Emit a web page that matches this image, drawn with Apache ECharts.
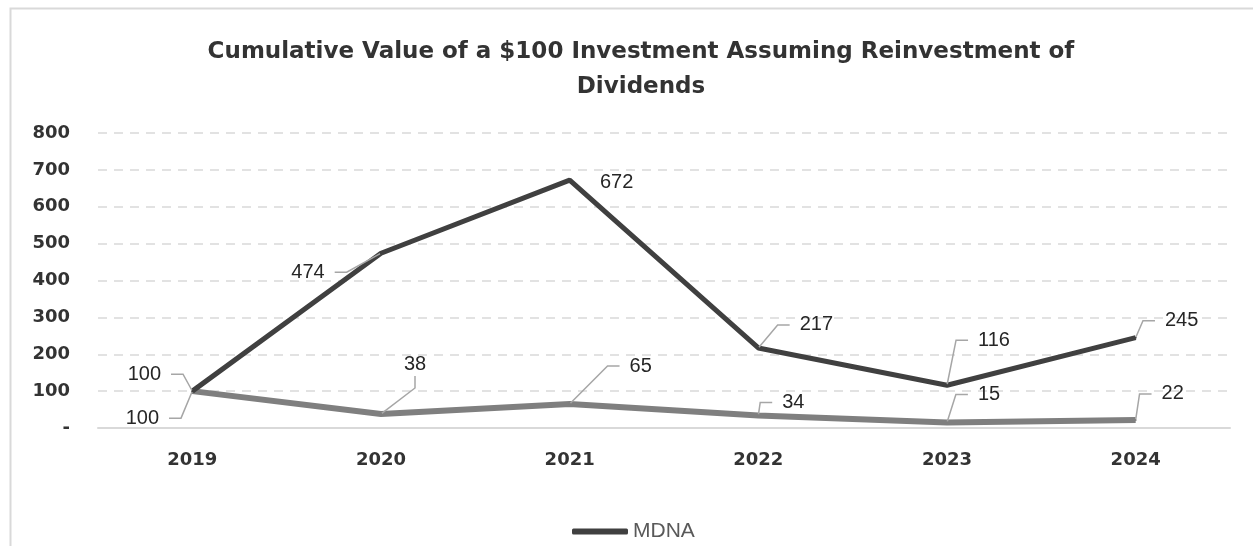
<!DOCTYPE html>
<html>
<head>
<meta charset="utf-8">
<script src="https://cdn.jsdelivr.net/npm/echarts@6/dist/echarts.min.js"></script>
<style>
  html, body { margin: 0; padding: 0; background: #fff; }
  #chart { width: 1253px; height: 546px; }
</style>
</head>
<body>
<div id="chart"></div>
<script>
// 数据
var years = ['2019', '2020', '2021', '2022', '2023', '2024'];
var mdnaValues = [100, 474, 672, 217, 116, 245];
var indexValues = [100, 38, 65, 34, 15, 22];
var yTicks = [0, 100, 200, 300, 400, 500, 600, 700, 800];

// 标签相对数据点的偏移 (label center - point)
var mdnaLabelOffset = [[-48, -17], [-73, 19], [47, 2], [58, -23], [47, -45], [46, -17]];
var indexLabelOffset = [[-50, 27], [34, -50], [71, -38], [35, -13], [42, -28], [37, -26]];

function moveLabel(offsets) {
  return function (params) {
    var r = params.rect;
    var lr = params.labelRect;
    var o = offsets[params.dataIndex];
    var cx = r.x + r.width / 2, cy = r.y + r.height / 2;
    return {
      dx: cx + o[0] - (lr.x + lr.width / 2),
      dy: cy + o[1] - (lr.y + lr.height / 2)
    };
  };
}

// 2021 的 672 标签没有引导线
var mdnaData = mdnaValues.map(function (v, i) {
  return i === 2 ? { value: v, labelLine: { show: false } } : v;
});

var chart = echarts.init(document.getElementById('chart'));

var labelLine = { show: true, length2: 12, lineStyle: { color: '#a6a6a6', width: 1.5 } };
var labelStyle = {
  show: true,
  position: 'top',
  fontFamily: 'Liberation Sans',
  fontSize: 20,
  color: '#262626',
  backgroundColor: 'rgba(255,255,255,0.01)',
  padding: [2, 10]
};

var option = {
  animation: false,
  backgroundColor: '#fff',
  graphic: [{
    type: 'rect',
    shape: { x: 10.5, y: 8.5, width: 1270, height: 560 },
    style: { fill: 'none', stroke: '#d9d9d9', lineWidth: 2 },
    silent: true
  }],
  title: {
    text: 'Cumulative Value of a $100 Investment Assuming Reinvestment of\nDividends',
    left: 636,
    top: 30,
    textAlign: 'center',
    textStyle: {
      fontFamily: 'DejaVu Sans',
      fontSize: 23,
      fontWeight: 'bold',
      color: '#333',
      lineHeight: 35
    }
  },
  legend: {
    data: ['MDNA'],
    top: 516,
    left: 567,
    icon: 'roundRect',
    itemWidth: 56,
    itemHeight: 6,
    textStyle: { fontFamily: 'Liberation Sans', fontSize: 21, color: '#595959' }
  },
  grid: { left: 98, right: 23, top: 133, bottom: 118, containLabel: false },
  xAxis: {
    type: 'category',
    data: years,
    boundaryGap: true,
    axisLine: { lineStyle: { color: '#d9d9d9', width: 2 } },
    axisTick: { show: false },
    axisLabel: {
      margin: 23,
      fontFamily: 'DejaVu Sans',
      fontSize: 18,
      fontWeight: 'bold',
      color: '#333'
    }
  },
  yAxis: {
    type: 'value',
    min: yTicks[0],
    max: yTicks[yTicks.length - 1],
    interval: 100,
    axisLine: { show: false },
    axisTick: { show: false },
    splitLine: { lineStyle: { color: '#d9d9d9', type: [9, 7], width: 1.5 } },
    axisLabel: {
      margin: 28,
      fontFamily: 'DejaVu Sans',
      fontSize: 18,
      fontWeight: 'bold',
      color: '#333',
      formatter: function (v) { return v === 0 ? '-' : String(v); }
    }
  },
  series: [
    {
      name: 'Index',
      type: 'line',
      data: indexValues,
      z: 2,
      symbol: 'circle',
      symbolSize: 2,
      showSymbol: true,
      lineStyle: { color: '#7f7f7f', width: 6 },
      itemStyle: { color: '#7f7f7f' },
      label: labelStyle,
      labelLine: labelLine,
      labelLayout: moveLabel(indexLabelOffset)
    },
    {
      name: 'MDNA',
      type: 'line',
      data: mdnaData,
      z: 3,
      symbol: 'circle',
      symbolSize: 2,
      showSymbol: true,
      lineStyle: { color: '#404040', width: 5 },
      itemStyle: { color: '#404040' },
      label: labelStyle,
      labelLine: labelLine,
      labelLayout: moveLabel(mdnaLabelOffset)
    }
  ]
};

chart.setOption(option);
</script>
</body>
</html>
